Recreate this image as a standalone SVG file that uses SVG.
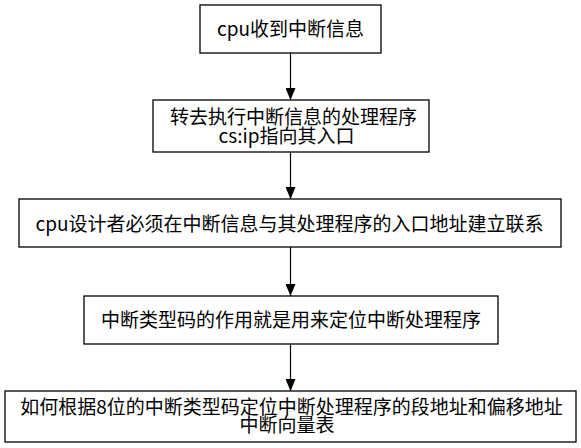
<svg xmlns="http://www.w3.org/2000/svg" width="581" height="448" viewBox="0 0 581 448">
<defs>
<marker id="arr" viewBox="0 0 12 10" markerWidth="12" markerHeight="10" refX="12" refY="5" orient="auto" markerUnits="userSpaceOnUse">
<path d="M0,0 L12,5 L0,10 Z" fill="#000"/>
</marker>
<style>
.box{fill:#fff;stroke:#000;stroke-width:1.3}
.t{font-family:"Noto Sans CJK SC","Noto Sans",sans-serif;font-size:19px;fill:#000;text-anchor:middle}
.c{stroke:#000;stroke-width:1.2;fill:none}
</style>
</defs>
<rect width="581" height="448" fill="#fff"/>
<g id="connectors">
<line class="c" x1="290.5" y1="53" x2="290.5" y2="100" marker-end="url(#arr)"/>
<line class="c" x1="290.5" y1="152" x2="290.5" y2="199" marker-end="url(#arr)"/>
<line class="c" x1="290.5" y1="247" x2="290.5" y2="296" marker-end="url(#arr)"/>
<line class="c" x1="290.5" y1="344" x2="290.5" y2="391" marker-end="url(#arr)"/>
</g>
<g id="n1">
<rect class="box" x="200" y="5" width="181" height="48"/>
<text class="t" x="290.5" y="36">cpu收到中断信息</text>
</g>
<g id="n2">
<rect class="box" x="153" y="100" width="276" height="52"/>
<text class="t" x="293.5" y="124">转去执行中断信息的处理程序</text>
<text class="t" x="286.5" y="143">cs:ip指向其入口</text>
</g>
<g id="n3">
<rect class="box" x="19" y="199" width="542" height="48"/>
<text class="t" x="289.5" y="231">cpu设计者必须在中断信息与其处理程序的入口地址建立联系</text>
</g>
<g id="n4">
<rect class="box" x="84" y="296" width="414" height="48"/>
<text class="t" x="291" y="327">中断类型码的作用就是用来定位中断处理程序</text>
</g>
<g id="n5">
<rect class="box" x="5" y="391" width="571" height="51"/>
<text class="t" x="291.5" y="414">如何根据8位的中断类型码定位中断处理程序的段地址和偏移地址</text>
<text class="t" x="287" y="432">中断向量表</text>
</g>
</svg>
